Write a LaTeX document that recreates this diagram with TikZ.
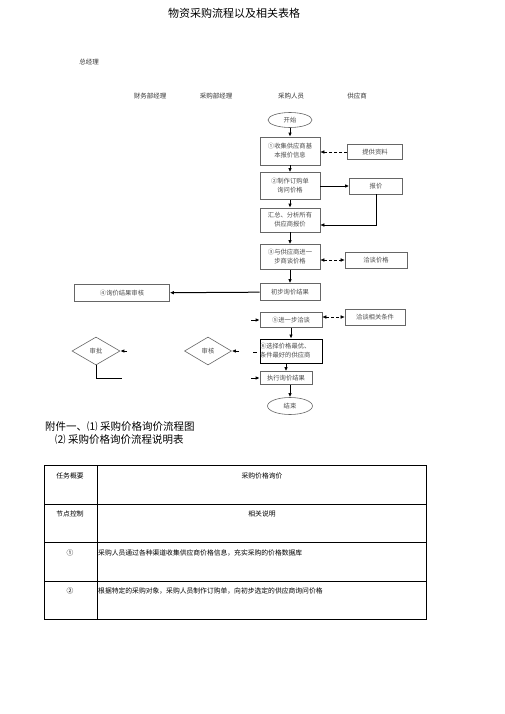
\documentclass[tikz,border=0pt]{standalone}
\usepackage{fontspec}
\setmainfont{Noto Sans CJK SC}
\usetikzlibrary{arrows.meta,shapes.geometric}
\begin{document}
\begin{tikzpicture}[x=1pt,y=-1pt,
  box/.style={draw=black!60, line width=0.6pt, inner sep=0pt, text=black!70,
    font=\fontsize{6.3}{8.8}\selectfont, align=center},
  oval/.style={ellipse, draw=black!60, line width=0.6pt, inner sep=0pt, text=black!70,
    font=\fontsize{6.3}{8}\selectfont},
  dia/.style={diamond, draw=black!60, line width=0.6pt, inner sep=0pt, text=black!70,
    font=\fontsize{6.3}{8}\selectfont},
  arr/.style={-{Latex[length=4pt,width=3.5pt]}, line width=0.8pt},
  darr/.style={{Latex[length=4pt,width=3.5pt]}-{Latex[length=4pt,width=3.5pt]}, densely dashed, line width=0.5pt},
  sarr/.style={-{Latex[length=4pt,width=3.5pt]}, densely dashed, line width=0.5pt},
  lbl/.style={font=\fontsize{6.5}{8}\selectfont, inner sep=0pt, text=black!80},
  tbl/.style={font=\fontsize{6.8}{8}\selectfont, inner sep=0pt},
]
\useasboundingbox[fill=white] (0,0) rectangle (505,714);

% title and headers
\node[inner sep=0pt, font=\fontsize{11}{13}\selectfont] (title) at (234,13) {物资采购流程以及相关表格};
\node[lbl] (gm) at (89,62) {总经理};
\node[lbl] (h1) at (150,96) {财务部经理};
\node[lbl] (h2) at (216,96) {采购部经理};
\node[lbl] (h3) at (291,96) {采购人员};
\node[lbl] (h4) at (357,96) {供应商};

% main column
\node[oval, minimum width=44pt, minimum height=15pt] (start) at (290,120) {开始};
\node[box, minimum width=60pt, minimum height=28pt] (b1) at (290,151) {①收集供应商基\\本报价信息};
\node[box, minimum width=60pt, minimum height=27pt] (b2) at (290,186) {②制作订购单\\询问价格};
\node[box, minimum width=60pt, minimum height=24pt] (b3) at (290,220) {汇总、分析所有\\供应商报价};
\node[box, minimum width=60pt, minimum height=25pt] (b4) at (290,257) {③与供应商进一\\步商谈价格};
\node[box, minimum width=60pt, minimum height=17pt] (b5) at (290,292) {初步询价结果};
\node[box, minimum width=62pt, minimum height=15pt] (b6) at (291,320) {⑤进一步洽谈};
\node[box, draw=black, line width=0.9pt, minimum width=62pt, minimum height=24pt, align=left, text width=62pt] (b7) at (291,351) {⑥选择价格最优、\\条件最好的供应商};
\node[box, minimum width=52pt, minimum height=13pt] (b8) at (286,378) {执行询价结果};
\node[oval, minimum width=45pt, minimum height=17pt] (end) at (290,406) {结束};

% supplier column
\node[box, minimum width=55pt, minimum height=15pt] (s1) at (375,152) {提供资料};
\node[box, minimum width=53pt, minimum height=16pt] (s2) at (376,186) {报价};
\node[box, minimum width=62pt, minimum height=16pt] (s3) at (376,260) {洽谈价格};
\node[box, minimum width=60pt, minimum height=16pt] (s4) at (375,317) {洽谈相关条件};

% left side
\node[box, minimum width=95pt, minimum height=17pt] (r4) at (122,293) {④询价结果审核};
\node[dia, minimum width=48pt, minimum height=28pt] (d1) at (96,351) {审批};
\node[dia, minimum width=47pt, minimum height=28pt] (d2) at (208,351) {审核};

% free ends
\coordinate (p6) at (251,320);
\coordinate (p7a) at (253,352);
\coordinate (p7b) at (257,352);
\coordinate (p8) at (251,378);
\coordinate (q1) at (127,351);
\coordinate (q2) at (239,351);
\coordinate (q3) at (122,378);

% connectors
\draw[arr] (start) -- (b1);
\draw[arr] (b1) -- (b2);
\draw[arr] (b2) -- (b3);
\draw[arr] (b3) -- (b4);
\draw[arr] (b4) -- (b5);
\draw[arr] (b6) -- (b7);
\draw[arr] (b7.south -| b8.north) -- (b8.north);
\draw[arr] (b8.south -| end.north) -- (end.north);
\draw[sarr] (s1) -- (s1.west -| b1.east);
\draw[arr] (b2) -- (s2);
\draw[line width=0.5pt, -{Latex[length=4pt,width=3.5pt]}] (s2.south) |- ([yshift=-5pt]b3.east);
\draw[darr] (b4.east |- s3.west) -- (s3.west);
\draw[darr] (b6.east |- s4.west) -- (s4.west);
\draw[arr, line width=1pt] (b5) -- (r4);
\draw[arr] (p6) -- (b6.west);
\draw[line width=0.6pt] (p7a) -- (p7b);
\draw[arr] (p8) -- (b8.west);
\draw[arr] (q1) -- (d1.east);
\draw[arr] (q2) -- (d2.east);
\draw[line width=0.6pt] (d1.south) |- (q3);

% captions
\node[anchor=west, inner sep=0pt, font=\fontsize{10.5}{13}\selectfont] (cap1) at (45,427) {附件一、⑴ 采购价格询价流程图};
\node[anchor=west, inner sep=0pt, font=\fontsize{10.5}{13}\selectfont] (cap2) at (55,440) {⑵ 采购价格询价流程说明表};

% table
\draw[line width=0.8pt] (44,465) rectangle (426,619);
\draw[line width=0.8pt] (97,465) -- (97,619);
\draw[line width=0.8pt] (44,504) -- (426,504);
\draw[line width=0.8pt] (44,542) -- (426,542);
\draw[line width=0.8pt] (44,581) -- (426,581);
\node[tbl] (t11) at (70,476) {任务概要};
\node[tbl] (t12) at (262,476) {采购价格询价};
\node[tbl] (t21) at (70,514) {节点控制};
\node[tbl] (t22) at (262,514) {相关说明};
\node[tbl] (t31) at (70,553) {①};
\node[tbl, anchor=west] (t32) at (98,553) {采购人员通过各种渠道收集供应商价格信息，充实采购的价格数据库};
\node[tbl] (t41) at (70,591) {②};
\node[tbl, anchor=west] (t42) at (98,591) {根据特定的采购对象，采购人员制作订购单，向初步选定的供应商询问价格};
\end{tikzpicture}
\end{document}
